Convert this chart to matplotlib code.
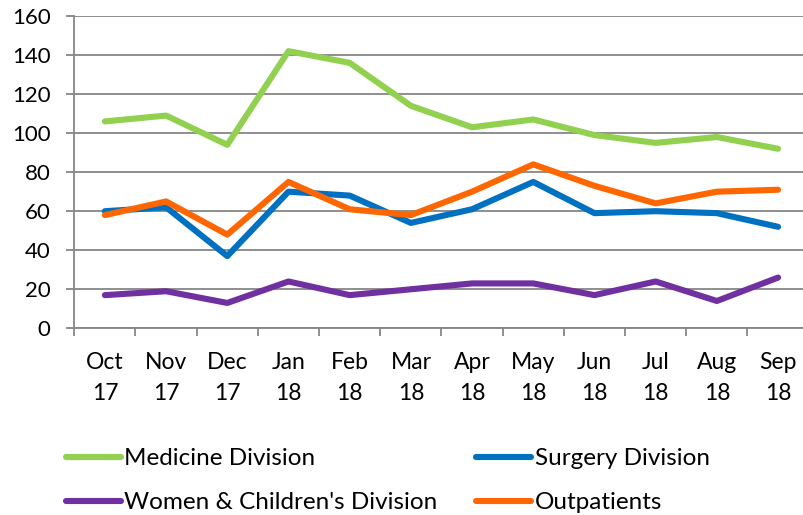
import matplotlib.pyplot as plt

plt.rcParams['font.family'] = ['Lato', 'DejaVu Sans']

# chart data
months = ['Oct\n17', 'Nov\n17', 'Dec\n17', 'Jan\n18', 'Feb\n18', 'Mar\n18',
          'Apr\n18', 'May\n18', 'Jun\n18', 'Jul\n18', 'Aug\n18', 'Sep\n18']
medicine = [106, 109, 94, 142, 136, 114, 103, 107, 99, 95, 98, 92]
surgery = [60, 62, 37, 70, 68, 54, 61, 75, 59, 60, 59, 52]
women = [17, 19, 13, 24, 17, 20, 23, 23, 17, 24, 14, 26]
outpatients = [58, 65, 48, 75, 61, 58, 70, 84, 73, 64, 70, 71]

fig = plt.figure(figsize=(8.04, 5.15), dpi=100)
ax = fig.add_axes([0.0924, 0.3625, 0.9134, 0.6064])

x = range(len(months))
l1, = ax.plot(x, medicine, color='#92D050', lw=4.4, solid_capstyle='round', label='Medicine Division')
l2, = ax.plot(x, surgery, color='#0070C0', lw=4.4, solid_capstyle='round', label='Surgery Division')
l3, = ax.plot(x, women, color='#7030A0', lw=4.4, solid_capstyle='round', label="Women & Children's Division")
l4, = ax.plot(x, outpatients, color='#FF6600', lw=4.4, solid_capstyle='round', label='Outpatients')

ax.set_xlim(-0.5, len(months) - 0.5)
ax.set_ylim(0, 160)
ax.set_yticks(range(0, 161, 20))
ax.yaxis.grid(True, color='#868686', lw=1.3)
ax.set_axisbelow(True)

# category boundary ticks, labels centered on categories
ax.set_xticks([i - 0.5 for i in range(len(months) + 1)])
ax.set_xticklabels([])
ax.set_xticks(list(x), minor=True)
ax.set_xticklabels(months, minor=True, fontsize=16.5, linespacing=1.6)
ax.tick_params(axis='x', which='minor', length=0, pad=17)
ax.tick_params(axis='x', which='major', length=6, width=1.3, color='#868686')
ax.tick_params(axis='y', length=6, width=1.3, color='#868686', labelsize=16, pad=11)

for s in ['top', 'right']:
    ax.spines[s].set_visible(False)
for s in ['left', 'bottom']:
    ax.spines[s].set_color('#868686')
    ax.spines[s].set_linewidth(1.3)

fig.legend(handles=[l1, l3, l2, l4], ncol=2, loc='upper left',
           bbox_to_anchor=(0.082, 0.13), bbox_transform=fig.transFigure,
           frameon=False, fontsize=17.5, handlelength=2.25, handletextpad=0.15,
           columnspacing=1.6, labelspacing=0.95, borderaxespad=0, borderpad=0)

fig.savefig('out.png', dpi=100)
